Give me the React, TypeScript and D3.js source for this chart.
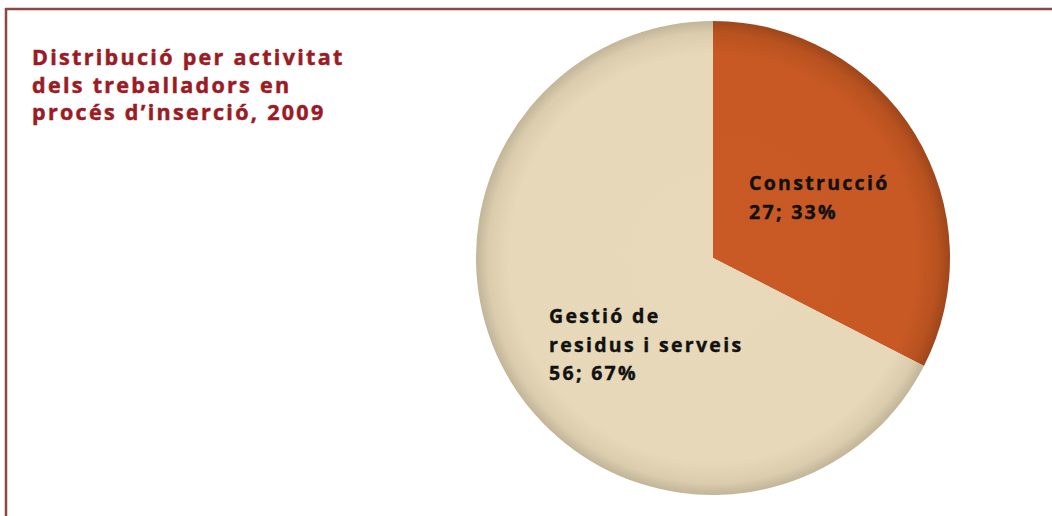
import React from "react";
import * as d3 from "d3";

const categories = ["Construcció", "Gestió de residus i serveis"];
const values = [27, 56];
const percents = ["33%", "67%"];
const labelLines = [["Construcció"], ["Gestió de", "residus i serveis"]];
const titleLines = ["Distribució per activitat", "dels treballadors en", "procés d’inserció, 2009"];

const W = 1052;
const H = 516;
const cx = 713;
const cy = 258;
const R = 237;

export default function App() {
  const pie = d3.pie<number>().sort(null).startAngle(0).endAngle(2 * Math.PI)(values);
  const arc = d3.arc<d3.PieArcDatum<number>>().innerRadius(0).outerRadius(R);
  const fills = ["url(#gOrange)", "url(#gBeige)"];
  const labelPos = [
    { x: 749, y: 190 },
    { x: 549, y: 323 },
  ];
  return (
    <svg width={W} height={H} style={{ position: "absolute", left: 0, top: 0 }}>
      <defs>
        <radialGradient id="gOrange" cx={0} cy={0} r={R} gradientUnits="userSpaceOnUse">
          <stop offset="0" stopColor="#C95A25" />
          <stop offset="0.86" stopColor="#C85924" />
          <stop offset="0.95" stopColor="#B8521F" />
          <stop offset="1" stopColor="#9E461C" />
        </radialGradient>
        <radialGradient id="gBeige" cx={0} cy={0} r={R} gradientUnits="userSpaceOnUse">
          <stop offset="0" stopColor="#E7D9B9" />
          <stop offset="0.86" stopColor="#E6D8B8" />
          <stop offset="0.95" stopColor="#DACCAD" />
          <stop offset="1" stopColor="#C2B598" />
        </radialGradient>
      </defs>
      <rect x={0} y={0} width={W} height={H} fill="#fff" />
      <line x1={5} x2={W} y1={9} y2={9} stroke="#8A4746" strokeWidth={2.5} />
      <line x1={6} x2={6} y1={8} y2={H} stroke="#8A4746" strokeWidth={2.5} />
      <g fontFamily="'Open Sans', 'DejaVu Sans', sans-serif" fontWeight="bold" fill="#9B1B24" stroke="#9B1B24" strokeWidth={0.5} fontSize={21.5} letterSpacing={2.3}>
        {titleLines.map((t, i) => (
          <text key={i} x={32} y={65 + i * 27.5}>{t}</text>
        ))}
      </g>
      <g transform={`translate(${cx},${cy})`}>
        {pie.map((d, i) => (
          <path key={i} d={arc(d) || ""} fill={fills[i]} />
        ))}
      </g>
      <g fontFamily="'Open Sans', 'DejaVu Sans', sans-serif" fontWeight="bold" fill="#111" stroke="#111" strokeWidth={0.4} fontSize={19.5} letterSpacing={2.3}>
        {labelLines.map((lines, i) => (
          <text key={i} x={labelPos[i].x} y={labelPos[i].y}>
            {[...lines, `${values[i]}; ${percents[i]}`].map((l, j) => (
              <tspan key={j} x={labelPos[i].x} y={labelPos[i].y + j * 28.5}>{l}</tspan>
            ))}
          </text>
        ))}
      </g>
    </svg>
  );
}
